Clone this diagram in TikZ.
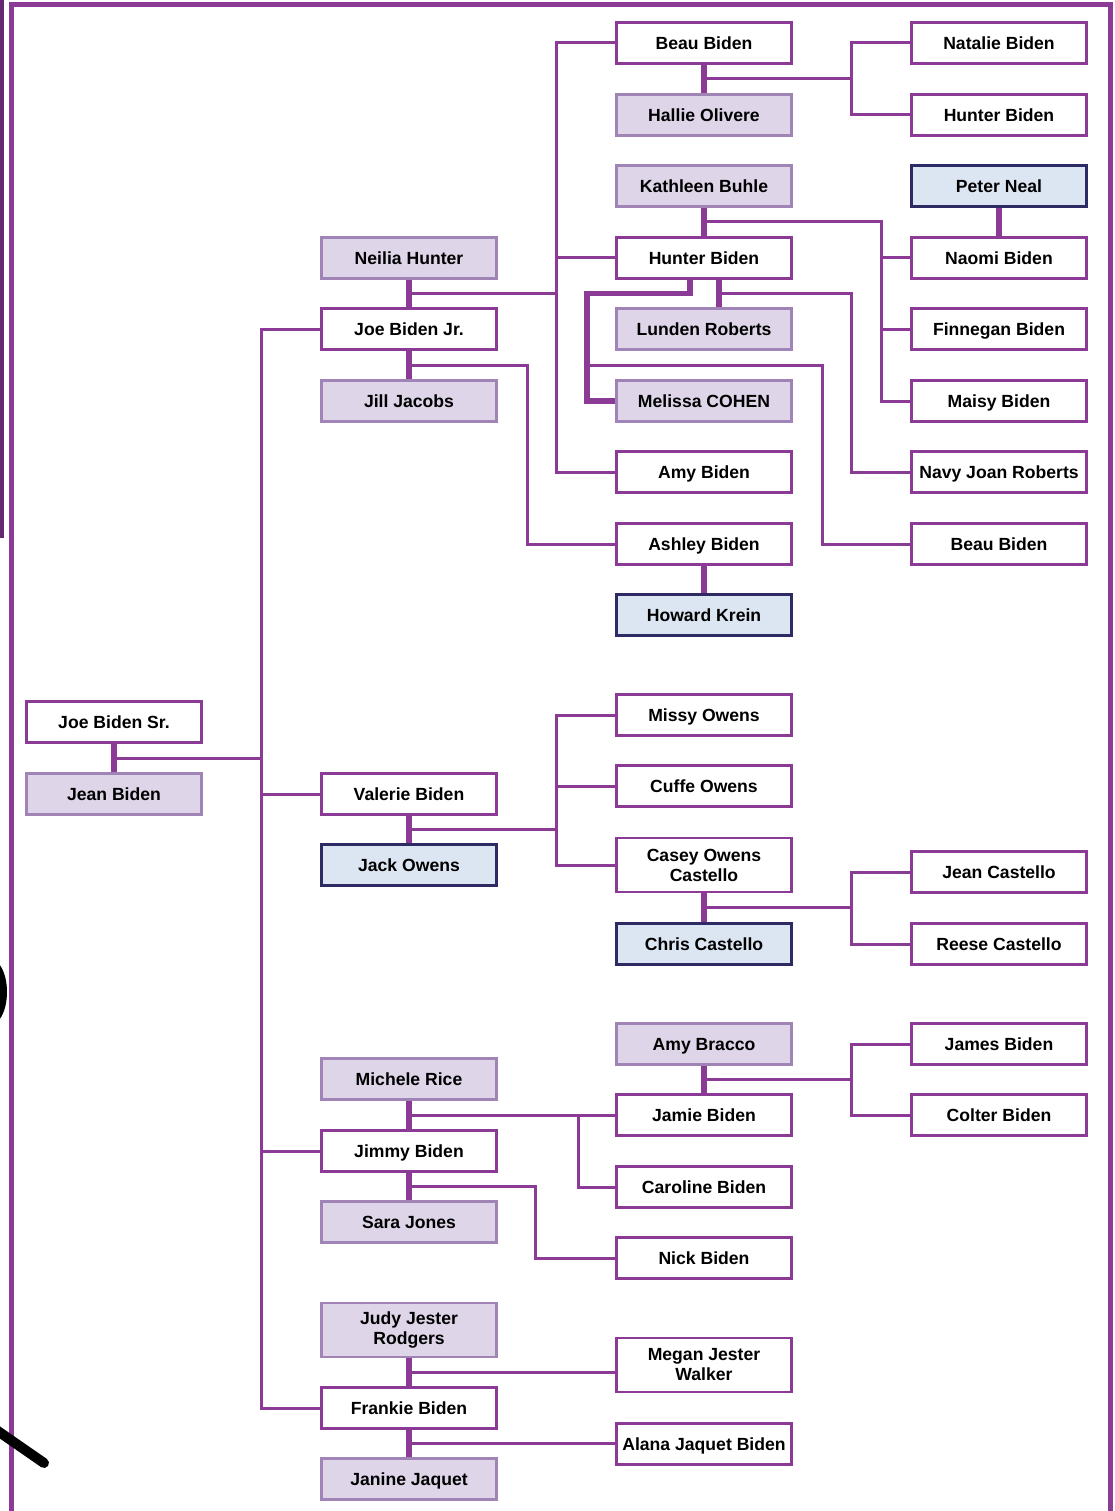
\documentclass[tikz,border=0pt]{standalone}
\usepackage{fontspec}
\setmainfont{Liberation Sans}
\usetikzlibrary{calc}
\definecolor{lin}{RGB}{139,58,150}
\definecolor{spfill}{RGB}{222,213,233}
\definecolor{spdraw}{RGB}{160,132,182}
\definecolor{blfill}{RGB}{220,230,243}
\definecolor{bldraw}{RGB}{45,42,100}
\definecolor{darkfr}{RGB}{100,40,115}
\tikzset{
  per/.style={draw=lin, line width=2.8pt, fill=white, minimum width=175pt, minimum height=41pt,
    inner sep=2pt, align=center, text height=12.6pt, text depth=0pt,
    font=\fontsize{17.6}{20}\selectfont\bfseries},
  sp/.style={per, draw=spdraw, fill=spfill},
  bl/.style={per, draw=bldraw, fill=blfill},
  two/.style={minimum height=54pt, text height=, text depth=},
  conn/.style={draw=lin, line width=3pt},
  couple/.style={draw=lin, line width=5.5pt},
  frame/.style={draw=lin, line width=5pt}
}
\begin{document}
\begin{tikzpicture}[x=1pt,y=-1pt]
\useasboundingbox (0,0) rectangle (1115,1511);
% frame and stray marks
\begin{scope}
\clip (0,0) rectangle (1115,1511);
\draw[frame] (11,1515) -- (11,5) -- (1110,5) -- (1110,1515);
\draw[draw=darkfr, line width=4.5pt] (2,-2) -- (2,538);
\fill[black] (-11,992) ellipse [x radius=18, y radius=34];
\draw[black, line width=10pt, line cap=round] (-8,1427) -- (44,1463);
\end{scope}

% column 1
\node[per] (sr) at (114,722) {Joe Biden Sr.};
\node[sp] (jean) at (114,794) {Jean Biden};
% column 2
\node[sp] (neilia) at (409,258) {Neilia Hunter};
\node[per] (jr) at (409,329) {Joe Biden Jr.};
\node[sp] (jill) at (409,401) {Jill Jacobs};
\node[per] (val) at (409,794) {Valerie Biden};
\node[bl] (jack) at (409,865) {Jack Owens};
\node[sp] (michele) at (409,1079) {Michele Rice};
\node[per] (jimmy) at (409,1151) {Jimmy Biden};
\node[sp] (sara) at (409,1222) {Sara Jones};
\node[sp,two] (judy) at (409,1330) {Judy Jester\\Rodgers};
\node[per] (frankie) at (409,1408) {Frankie Biden};
\node[sp] (janine) at (409,1479) {Janine Jaquet};
% column 3
\node[per] (beau) at (704,43) {Beau Biden};
\node[sp] (hallie) at (704,115) {Hallie Olivere};
\node[sp] (kathleen) at (704,186) {Kathleen Buhle};
\node[per] (hunter) at (704,258) {Hunter Biden};
\node[sp] (lunden) at (704,329) {Lunden Roberts};
\node[sp] (melissa) at (704,401) {Melissa COHEN};
\node[per] (amy) at (704,472) {Amy Biden};
\node[per] (ashley) at (704,544) {Ashley Biden};
\node[bl] (howard) at (704,615) {Howard Krein};
\node[per] (missy) at (704,715) {Missy Owens};
\node[per] (cuffe) at (704,786) {Cuffe Owens};
\node[per,two] (casey) at (704,865) {Casey Owens\\Castello};
\node[bl] (chris) at (704,944) {Chris Castello};
\node[sp] (bracco) at (704,1044) {Amy Bracco};
\node[per] (jamie) at (704,1115) {Jamie Biden};
\node[per] (caroline) at (704,1187) {Caroline Biden};
\node[per] (nick) at (704,1258) {Nick Biden};
\node[per,two] (megan) at (704,1365) {Megan Jester\\Walker};
\node[per] (alana) at (704,1444) {Alana Jaquet Biden};
% column 4
\node[per] (natalie) at (999,43) {Natalie Biden};
\node[per] (hunterb) at (999,115) {Hunter Biden};
\node[bl] (peter) at (999,186) {Peter Neal};
\node[per] (naomi) at (999,258) {Naomi Biden};
\node[per] (finn) at (999,329) {Finnegan Biden};
\node[per] (maisy) at (999,401) {Maisy Biden};
\node[per] (navy) at (999,472) {Navy Joan Roberts};
\node[per] (beaub) at (999,544) {Beau Biden};
\node[per] (jeanc) at (999,872) {Jean Castello};
\node[per] (reese) at (999,944) {Reese Castello};
\node[per] (james) at (999,1044) {James Biden};
\node[per] (colter) at (999,1115) {Colter Biden};

% ---- connectors ----
% Joe Sr + Jean
\coordinate (m1) at ($(sr.south)!0.5!(jean.north)$);
\coordinate (t1) at (261,758);
\draw[conn] (m1) -- (t1 |- m1);
\draw[conn] (jr.west) -| (t1) |- (frankie.west);
\draw[conn] (t1 |- val.west) -- (val.west);
\draw[conn] (t1 |- jimmy.west) -- (jimmy.west);
\draw[couple] (sr.south) -- (jean.north);

% Joe Jr + Neilia
\coordinate (m2) at ($(neilia.south)!0.5!(jr.north)$);
\coordinate (b2) at (556,293.5);
\draw[conn] (m2) -- (b2 |- m2);
\draw[conn] (beau.west) -| (b2) |- (amy.west);
\draw[conn] (b2 |- hunter.west) -- (hunter.west);
\draw[couple] (neilia.south) -- (jr.north);
% Joe Jr + Jill
\coordinate (m3) at ($(jr.south)!0.5!(jill.north)$);
\coordinate (c3) at (527,365);
\draw[conn] (m3) -- (c3 |- m3) |- (ashley.west);
\draw[couple] (jr.south) -- (jill.north);

% Beau + Hallie
\coordinate (m4) at ($(beau.south)!0.5!(hallie.north)$);
\coordinate (b4) at (851,79);
\draw[conn] (m4) -- (b4 |- m4);
\draw[conn] (natalie.west) -| (b4) |- (hunterb.west);
\draw[couple] (beau.south) -- (hallie.north);

% Kathleen + Hunter
\coordinate (m5) at ($(kathleen.south)!0.5!(hunter.north)$);
\coordinate (b5) at (881,222);
\draw[conn] (m5) -- (b5 |- m5) |- (maisy.west);
\draw[conn] (b5 |- naomi.west) -- (naomi.west);
\draw[conn] (b5 |- finn.west) -- (finn.west);
\draw[couple] (kathleen.south) -- (hunter.north);

% Peter + Naomi
\draw[couple] (peter.south) -- (naomi.north);

% Hunter + Lunden
\coordinate (m6) at ($($(hunter.south)!0.5!(lunden.north)$)+(15,0)$);
\coordinate (b6) at (851,293);
\draw[conn] (m6) -- (b6 |- m6) |- (navy.west);
\draw[couple] ($(hunter.south)+(15,0)$) -- ($(lunden.north)+(15,0)$);

% Hunter + Melissa
\coordinate (h7) at (587,293.5);
\coordinate (c8) at (822,365);
\draw[conn] (h7 |- c8) -- (c8) |- (beaub.west);
\draw[couple] ($(hunter.south)+(-14,0)$) |- (h7) |- (melissa.west);

% Ashley + Howard
\draw[couple] (ashley.south) -- (howard.north);

% Valerie + Jack
\coordinate (m9) at ($(val.south)!0.5!(jack.north)$);
\coordinate (b9) at (556,829);
\draw[conn] (m9) -- (b9 |- m9);
\draw[conn] (missy.west) -| (b9) |- (casey.west);
\draw[conn] (b9 |- cuffe.west) -- (cuffe.west);
\draw[couple] (val.south) -- (jack.north);

% Casey + Chris
\coordinate (m10) at ($(casey.south)!0.5!(chris.north)$);
\coordinate (b10) at (851,908);
\draw[conn] (m10) -- (b10 |- m10);
\draw[conn] (jeanc.west) -| (b10) |- (reese.west);
\draw[couple] (casey.south) -- (chris.north);

% Michele + Jimmy
\coordinate (m11) at ($(michele.south)!0.5!(jimmy.north)$);
\coordinate (b11) at (578,1115);
\draw[conn] (m11) -- (jamie.west);
\draw[conn] (b11 |- m11) |- (caroline.west);
\draw[couple] (michele.south) -- (jimmy.north);

% Jimmy + Sara
\coordinate (m12) at ($(jimmy.south)!0.5!(sara.north)$);
\coordinate (c12) at (535,1187);
\draw[conn] (m12) -- (c12 |- m12) |- (nick.west);
\draw[couple] (jimmy.south) -- (sara.north);

% Amy Bracco + Jamie
\coordinate (m13) at ($(bracco.south)!0.5!(jamie.north)$);
\coordinate (b13) at (851,1080);
\draw[conn] (m13) -- (b13 |- m13);
\draw[conn] (james.west) -| (b13) |- (colter.west);
\draw[couple] (bracco.south) -- (jamie.north);

% Judy + Frankie
\coordinate (m14) at ($(judy.south)!0.5!(frankie.north)$);
\draw[conn] (m14) -- (m14 -| megan.west);
\draw[couple] (judy.south) -- (frankie.north);

% Frankie + Janine
\coordinate (m15) at ($(frankie.south)!0.5!(janine.north)$);
\draw[conn] (m15) -- (m15 -| alana.west);
\draw[couple] (frankie.south) -- (janine.north);
\end{tikzpicture}
\end{document}
